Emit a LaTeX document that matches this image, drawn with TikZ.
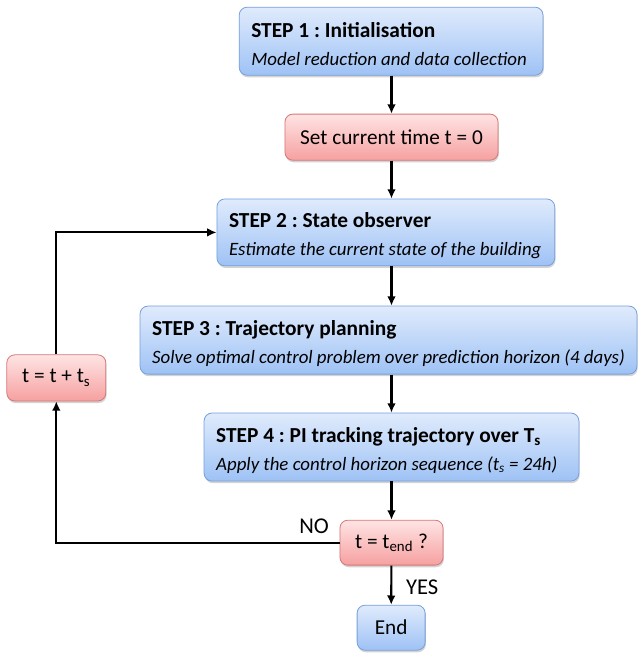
\documentclass[tikz,border=0pt]{standalone}
\usepackage{fontspec}
\setmainfont{Carlito}
\usetikzlibrary{arrows.meta,shadows}

\definecolor{bluetop}{RGB}{224,235,252}
\definecolor{bluebot}{RGB}{158,194,245}
\definecolor{blueline}{RGB}{118,160,222}
\definecolor{redtop}{RGB}{255,228,228}
\definecolor{redbot}{RGB}{246,160,160}
\definecolor{redline}{RGB}{214,118,118}

\newcommand{\steptitle}[1]{{\fontsize{16.1}{18}\selectfont\bfseries\rule{0pt}{16pt}#1}}
\newcommand{\stepnote}[1]{{\fontsize{14.2}{18}\selectfont\itshape #1}}

\begin{document}
\frenchspacing
\begin{tikzpicture}[
		box/.style={shape=rectangle, rounded corners=6pt, line width=0.6pt, inner xsep=0.32cm,
			font=\fontsize{16}{21}\selectfont,
			drop shadow={shadow xshift=0.6pt, shadow yshift=-1.6pt, opacity=0.35}},
		bluebox/.style={box, draw=blueline, top color=bluetop, bottom color=bluebot},
		redbox/.style={box, draw=redline, top color=redtop, bottom color=redbot},
		stepbox/.style={bluebox, minimum height=1.80cm, align=flush left, font=\fontsize{15}{21}\selectfont},
		wire/.style={line width=1.6pt, -{Latex[length=7pt, width=6.5pt]}},
		tag/.style={font=\fontsize{17}{19}\selectfont, inner sep=0pt}
	]
		\useasboundingbox (0, 0) rectangle (16.91, 17.28);
		% Boxes:
		\node[stepbox, text width=7.40cm] (step1) at (10.35, 16.19){\steptitle{STEP 1 : Initialisation}\\ \stepnote{Model reduction and data collection}};
		\node[redbox, minimum width=5.64cm, minimum height=1.22cm] (settime) at (10.36, 13.65){Set current time t = 0};
		\node[stepbox, text width=8.30cm, minimum height=1.77cm] (step2) at (10.21, 11.13){\steptitle{STEP 2 : State observer}\\ \stepnote{Estimate the current state of the building}};
		\node[stepbox, text width=12.51cm] (step3) at (10.28, 8.28){\steptitle{STEP 3 : Trajectory planning}\\ \stepnote{Solve optimal control problem over prediction horizon (4 days)}};
		\node[stepbox, text width=9.28cm] (step4) at (10.36, 5.45){\steptitle{STEP 4 : PI tracking trajectory over T\textsubscript{s}}\\ \stepnote{Apply the control horizon sequence (t\textsubscript{s} = 24h)}};
		\node[redbox, minimum width=2.73cm, minimum height=1.19cm] (check) at (10.36, 2.92){t = t\textsubscript{end} ?};
		\node[bluebox, minimum width=1.80cm, minimum height=1.19cm] (finish) at (10.35, 0.67){End};
		\node[redbox, minimum width=2.62cm, minimum height=1.22cm] (update) at (1.49, 7.28){t = t + t\textsubscript{s}};
		% Wires:
		\draw[wire] (step1.south -| settime) -- (settime);
		\draw[wire] (settime) -- (settime |- step2.north);
		\draw[wire] (step2.south -| settime) -- (settime |- step3.north);
		\draw[wire] (step3.south -| settime) -- (settime |- step4.north);
		\draw[wire] (step4.south -| check) -- (check);
		\draw[wire] (check) -- (finish);
		\draw[wire] (check.west) -| (update.south);
		\draw[wire] (update.north) |- (step2.west);
		% Labels:
		\node[tag] (no) at (8.31, 3.36){NO};
		\node[tag] (yes) at (11.17, 1.75){YES};
	\end{tikzpicture}
\end{document}
